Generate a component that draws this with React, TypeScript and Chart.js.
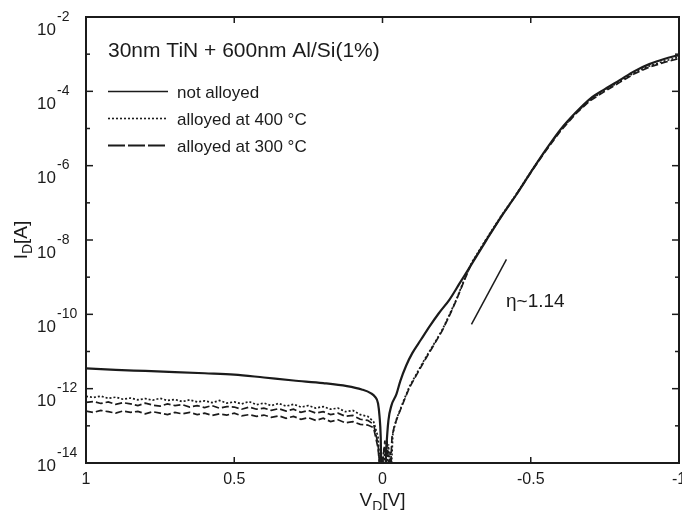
import React, { useEffect, useRef } from "react";
import { Chart, registerables } from "chart.js";

Chart.register(...registerables);

// ---------- text ----------
const LEGEND_TITLE = "30nm TiN + 600nm Al/Si(1%)";
const SERIES_LABELS = ["not alloyed", "alloyed at 400 °C", "alloyed at 300 °C"];
const ETA_LABEL = "η~1.14";
const X_TITLE = ["V", "D", "[V]"];
const Y_TITLE = ["I", "D", "[A]"];

// ---------- axes ----------
const X_TICKS = [1, 0.5, 0, -0.5, -1];
const X_TICK_LABELS = ["1", "0.5", "0", "-0.5", "-1"];
const Y_DECADES = [-14, -13, -12, -11, -10, -9, -8, -7, -6, -5, -4, -3, -2];
const Y_LABELLED = [-14, -12, -10, -8, -6, -4, -2];

// ---------- data: V_D [V], I_D [A] ----------
const V_NOT_ALLOYED = [
  1.0, 0.9, 0.8, 0.7, 0.6, 0.5, 0.4, 0.3, 0.2, 0.12, 0.07, 0.04, 0.025, 0.015, 0.01, 0.006, 0.003,
  -0.008, -0.013, -0.02, -0.03, -0.047, -0.06, -0.08, -0.1, -0.13, -0.16, -0.19, -0.226, -0.26,
  -0.3, -0.35, -0.4, -0.45, -0.5, -0.55, -0.6, -0.65, -0.7, -0.75, -0.8, -0.85, -0.9, -0.95, -1.0,
];
const I_NOT_ALLOYED = [
  3.5e-12, 3.2e-12, 3.0e-12, 2.8e-12, 2.6e-12, 2.4e-12, 2.0e-12, 1.66e-12, 1.41e-12, 1.17e-12,
  9.5e-13, 7.6e-13, 6.0e-13, 4.0e-13, 1.8e-13, 5.0e-14, 3.2e-15,
  3.2e-15, 2.5e-14, 1.4e-13, 3.5e-13, 7.1e-13, 1.6e-12, 4.2e-12, 8.9e-12, 2.1e-11, 4.9e-11,
  1.07e-10, 2.5e-10, 6.8e-10, 2.2e-9, 9.8e-9, 4.2e-8, 1.6e-7, 6.6e-7, 2.6e-6, 9.3e-6, 2.6e-5,
  6.3e-5, 1.15e-4, 2.0e-4, 3.5e-4, 5.4e-4, 7.4e-4, 9.5e-4,
];

const V_REVERSE_NOISY = [
  1.0, 0.975, 0.95, 0.925, 0.9, 0.875, 0.85, 0.825, 0.8, 0.775, 0.75, 0.725, 0.7, 0.675,
  0.65, 0.625, 0.6, 0.575, 0.55, 0.525, 0.5, 0.475, 0.45, 0.425, 0.4, 0.375, 0.35, 0.325,
  0.3, 0.275, 0.25, 0.225, 0.2, 0.175, 0.15, 0.125, 0.1, 0.075, 0.05, 0.03, 0.015, 0.005,
];

const I_400_REVERSE = [
  6.2e-13, 5.8e-13, 6.3e-13, 5.5e-13, 5.9e-13, 5.2e-13, 5.6e-13, 5.0e-13, 5.4e-13, 4.9e-13,
  5.5e-13, 4.8e-13, 5.1e-13, 4.5e-13, 5.0e-13, 4.4e-13, 4.7e-13, 4.2e-13, 4.8e-13, 4.1e-13,
  4.4e-13, 3.9e-13, 4.5e-13, 3.7e-13, 4.1e-13, 3.5e-13, 4.0e-13, 3.4e-13, 3.8e-13, 3.2e-13,
  3.5e-13, 3.0e-13, 3.3e-13, 2.8e-13, 3.0e-13, 2.4e-13, 2.6e-13, 2.0e-13, 1.8e-13, 1.3e-13,
  5.0e-14, 3.2e-15,
];
const V_400_FORWARD = [
  -0.005, -0.012, -0.02, -0.028, -0.035, -0.047, -0.07, -0.091, -0.12, -0.148, -0.175, -0.202,
  -0.225, -0.249, -0.275, -0.3, -0.35, -0.4, -0.45, -0.5, -0.55, -0.6, -0.65, -0.7, -0.75, -0.8,
  -0.85, -0.9, -0.95, -1.0,
];
const I_400_FORWARD = [
  2.5e-14, 3.2e-15, 3.2e-14, 3.2e-15, 6.3e-14, 1.5e-13, 4.5e-13, 1.15e-12, 3.0e-12, 7.4e-12,
  1.66e-11, 3.9e-11, 9.5e-11, 2.5e-10, 8.3e-10, 2.4e-9, 1.07e-8, 4.4e-8, 1.66e-7, 6.8e-7,
  2.6e-6, 8.9e-6, 2.5e-5, 5.9e-5, 1.07e-4, 1.86e-4, 3.2e-4, 4.8e-4, 6.5e-4, 8.3e-4,
];

const I_300_REVERSE = [
  4.3e-13, 4.5e-13, 4.0e-13, 4.4e-13, 3.8e-13, 4.2e-13, 3.9e-13, 3.5e-13, 4.1e-13, 3.6e-13,
  3.4e-13, 3.9e-13, 3.5e-13, 3.7e-13, 3.2e-13, 3.5e-13, 3.1e-13, 3.5e-13, 3.0e-13, 3.3e-13,
  3.2e-13, 2.8e-13, 3.2e-13, 2.8e-13, 3.0e-13, 2.6e-13, 2.9e-13, 2.5e-13, 2.8e-13, 2.3e-13,
  2.6e-13, 2.2e-13, 2.4e-13, 2.0e-13, 2.2e-13, 1.8e-13, 1.9e-13, 1.5e-13, 1.4e-13, 1.1e-13,
  3.2e-14, 3.2e-15,
];
const V_300_FORWARD = [
  -0.005, -0.015, -0.025, -0.032, -0.04, -0.05, -0.07, -0.091, -0.12, -0.148, -0.175, -0.202,
  -0.225, -0.249, -0.275, -0.3, -0.35, -0.4, -0.45, -0.5, -0.55, -0.6, -0.65, -0.7, -0.75, -0.8,
  -0.85, -0.9, -0.95, -1.0,
];
const I_300_FORWARD = [
  3.2e-15, 4.0e-14, 3.2e-15, 5.0e-14, 1.0e-13, 1.66e-13, 4.2e-13, 1.07e-12, 2.8e-12, 6.9e-12,
  1.58e-11, 3.7e-11, 8.9e-11, 2.4e-10, 7.9e-10, 2.3e-9, 1.02e-8, 4.2e-8, 1.6e-7, 6.5e-7,
  2.45e-6, 8.5e-6, 2.4e-5, 5.6e-5, 1.0e-4, 1.74e-4, 3.0e-4, 4.5e-4, 6.0e-4, 7.6e-4,
];

// second 300 °C trace, visible only in the reverse branch
const I_300B_REVERSE = [
  2.5e-13, 2.3e-13, 2.6e-13, 2.4e-13, 2.2e-13, 2.5e-13, 2.3e-13, 2.45e-13, 2.1e-13, 2.4e-13,
  2.2e-13, 2.0e-13, 2.3e-13, 2.1e-13, 2.3e-13, 2.0e-13, 2.2e-13, 1.9e-13, 2.1e-13, 1.95e-13,
  2.2e-13, 1.86e-13, 2.0e-13, 1.8e-13, 1.95e-13, 1.7e-13, 1.86e-13, 1.6e-13, 1.8e-13, 1.5e-13,
  1.66e-13, 1.4e-13, 1.6e-13, 1.3e-13, 1.45e-13, 1.2e-13, 1.3e-13, 1.1e-13, 1.05e-13, 8.9e-14,
  2.5e-14, 3.2e-15,
];
const V_300B_FORWARD = [-0.008, -0.018, -0.026, -0.038];
const I_300B_FORWARD = [4.0e-14, 3.2e-15, 2.0e-14, 3.2e-15];

// ideality slope marker
const V_ETA_SEGMENT = [-0.3, -0.418];
const I_ETA_SEGMENT = [5.4e-11, 3.0e-9];

// ---------- style ----------
const FONT = '"Liberation Sans", Arial, Helvetica, sans-serif';
const INK = "#1b1b1b";

const pts = (vs: number[], is: number[]) => vs.map((v, i) => ({ x: v, y: is[i] }));

const decor = {
  id: "decor",
  afterDatasetsDraw(chart: any) {
    const { ctx, chartArea: a, scales } = chart;
    const x = scales.x;
    const y = scales.y;
    ctx.save();
    ctx.strokeStyle = INK;
    ctx.setLineDash([]);
    ctx.lineWidth = 2;
    ctx.strokeRect(a.left, a.top, a.right - a.left, a.bottom - a.top);
    ctx.lineWidth = 1.5;
    const seg = (x1: number, y1: number, x2: number, y2: number) => {
      ctx.beginPath();
      ctx.moveTo(x1, y1);
      ctx.lineTo(x2, y2);
      ctx.stroke();
    };
    X_TICKS.forEach((v) => {
      const px = x.getPixelForValue(v);
      if (px <= a.left + 2 || px >= a.right - 2) return;
      seg(px, a.bottom, px, a.bottom - 6);
      seg(px, a.top, px, a.top + 6);
    });
    Y_DECADES.forEach((d) => {
      const py = y.getPixelForValue(Math.pow(10, d));
      if (py <= a.top + 2 || py >= a.bottom - 2) return;
      const len = Y_LABELLED.includes(d) ? 7 : 4;
      seg(a.left, py, a.left + len, py);
      seg(a.right, py, a.right - len, py);
    });
    ctx.restore();
  },
  afterDraw(chart: any) {
    const { ctx, chartArea: a, scales } = chart;
    const x = scales.x;
    const y = scales.y;
    ctx.save();
    ctx.fillStyle = INK;
    ctx.textBaseline = "alphabetic";

    // x tick labels
    ctx.font = `16px ${FONT}`;
    ctx.textAlign = "center";
    X_TICKS.forEach((v, i) => {
      ctx.fillText(X_TICK_LABELS[i], x.getPixelForValue(v), a.bottom + 21);
    });

    // y tick labels 10^n
    Y_LABELLED.forEach((d) => {
      let py = y.getPixelForValue(Math.pow(10, d));
      if (d === Y_LABELLED[0]) py -= 10;
      ctx.font = `17px ${FONT}`;
      ctx.textAlign = "right";
      ctx.fillText("10", 56, py + 17.5);
      ctx.font = `14px ${FONT}`;
      ctx.textAlign = "left";
      ctx.fillText(String(d), 57, py + 3.5);
    });

    // axis titles with subscript
    const drawSub = (parts: string[], cx: number, cy: number, rot: number) => {
      ctx.save();
      ctx.translate(cx, cy);
      ctx.rotate(rot);
      ctx.font = `19px ${FONT}`;
      const w0 = ctx.measureText(parts[0]).width;
      const w2 = ctx.measureText(parts[2]).width;
      ctx.font = `14px ${FONT}`;
      const w1 = ctx.measureText(parts[1]).width;
      let sx = -(w0 + w1 + w2) / 2;
      ctx.textAlign = "left";
      ctx.font = `19px ${FONT}`;
      ctx.fillText(parts[0], sx, 0);
      sx += w0;
      ctx.font = `14px ${FONT}`;
      ctx.fillText(parts[1], sx, 5);
      sx += w1;
      ctx.font = `19px ${FONT}`;
      ctx.fillText(parts[2], sx, 0);
      ctx.restore();
    };
    drawSub(X_TITLE, (a.left + a.right) / 2, 506, 0);
    drawSub(Y_TITLE, 27, (a.top + a.bottom) / 2, -Math.PI / 2);

    // legend
    ctx.textAlign = "left";
    ctx.font = `21px ${FONT}`;
    ctx.fillText(LEGEND_TITLE, 108, 56.5);
    const styles = [
      { dash: [] as number[], w: 1.6 },
      { dash: [2, 2], w: 1.6 },
      { dash: [17, 3], w: 2 },
    ];
    SERIES_LABELS.forEach((lab, i) => {
      const base = 97.5 + i * 27;
      ctx.save();
      ctx.strokeStyle = INK;
      ctx.lineWidth = styles[i].w;
      ctx.setLineDash(styles[i].dash);
      ctx.beginPath();
      ctx.moveTo(108, base - 6);
      ctx.lineTo(168, base - 6);
      ctx.stroke();
      ctx.restore();
      ctx.font = `17px ${FONT}`;
      ctx.fillText(lab, 177, base);
    });

    // eta label
    ctx.font = `19px ${FONT}`;
    ctx.fillText(ETA_LABEL, 506, 307);
    ctx.restore();
  },
};

export default function App() {
  const ref = useRef<HTMLCanvasElement>(null);
  useEffect(() => {
    const canvas = ref.current;
    if (!canvas) return;
    const common = { pointRadius: 0, borderColor: INK, backgroundColor: INK, fill: false };
    const chart = new Chart(canvas, {
      type: "line",
      data: {
        datasets: [
          {
            ...common,
            label: SERIES_LABELS[0],
            data: pts(V_NOT_ALLOYED, I_NOT_ALLOYED),
            borderWidth: 2.2,
            cubicInterpolationMode: "monotone",
          },
          {
            ...common,
            label: SERIES_LABELS[1],
            data: [...pts(V_REVERSE_NOISY, I_400_REVERSE), ...pts(V_400_FORWARD, I_400_FORWARD)],
            borderWidth: 1.7,
            borderDash: [2, 2],
          },
          {
            ...common,
            label: SERIES_LABELS[2],
            data: [...pts(V_REVERSE_NOISY, I_300_REVERSE), ...pts(V_300_FORWARD, I_300_FORWARD)],
            borderWidth: 1.7,
            borderDash: [7, 3],
          },
          {
            ...common,
            label: SERIES_LABELS[2] + " (trace 2)",
            data: [...pts(V_REVERSE_NOISY, I_300B_REVERSE), ...pts(V_300B_FORWARD, I_300B_FORWARD)],
            borderWidth: 1.7,
            borderDash: [7, 3],
          },
          {
            ...common,
            label: ETA_LABEL,
            data: pts(V_ETA_SEGMENT, I_ETA_SEGMENT),
            borderWidth: 1.5,
          },
        ],
      },
      options: {
        animation: false,
        responsive: false,
        devicePixelRatio: 1,
        layout: { padding: { left: 86, top: 17, right: 3, bottom: 47 } },
        plugins: { legend: { display: false }, tooltip: { enabled: false } },
        scales: {
          x: {
            type: "linear",
            min: -1,
            max: 1,
            reverse: true,
            ticks: { display: false },
            grid: { display: false, drawTicks: false },
            border: { display: false },
          },
          y: {
            type: "logarithmic",
            min: 1e-14,
            max: 1e-2,
            ticks: { display: false },
            grid: { display: false, drawTicks: false },
            border: { display: false },
          },
        },
      },
      plugins: [decor],
    } as any);
    return () => chart.destroy();
  }, []);
  return (
    <div style={{ position: "absolute", left: 0, top: 0, width: 682, height: 510, background: "#fff" }}>
      <canvas ref={ref} width={682} height={510} style={{ display: "block", width: 682, height: 510 }} />
    </div>
  );
}
